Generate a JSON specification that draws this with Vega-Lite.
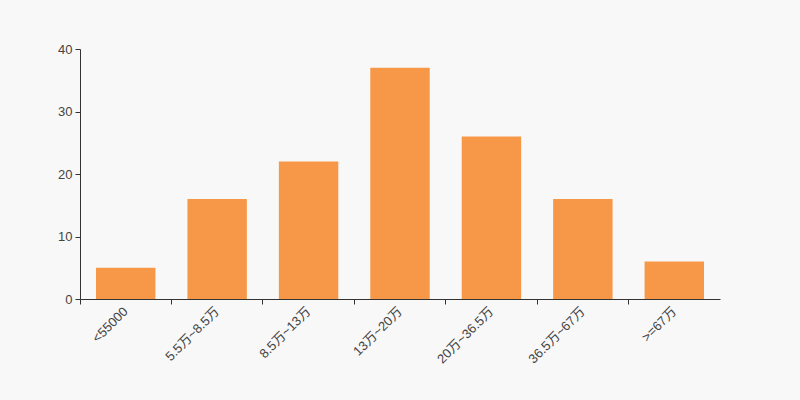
{
  "$schema": "https://vega.github.io/schema/vega-lite/v6.json",
  "width": 640,
  "height": 250,
  "autosize": {"type": "none"},
  "padding": {"left": 80, "top": 49, "right": 80, "bottom": 101},
  "background": "#f8f8f8",
  "config": {
    "view": {"stroke": null},
    "font": "Liberation Sans, Noto Sans CJK SC, sans-serif"
  },
  "data": {
    "values": [
      {"range": "<55000", "count": 5},
      {"range": "5.5万~8.5万", "count": 16},
      {"range": "8.5万~13万", "count": 22},
      {"range": "13万~20万", "count": 37},
      {"range": "20万~36.5万", "count": 26},
      {"range": "36.5万~67万", "count": 16},
      {"range": ">=67万", "count": 6}
    ]
  },
  "mark": {"type": "bar", "color": "#f79848", "width": {"band": 0.65}},
  "encoding": {
    "x": {
      "field": "range",
      "type": "nominal",
      "sort": null,
      "scale": {"paddingInner": 0, "paddingOuter": 0},
      "axis": {
        "title": null,
        "labelAngle": -45,
        "labelAlign": "right",
        "labelBaseline": "middle",
        "labelFontSize": 13,
        "labelColor": "#444",
        "labelPadding": 5,
        "bandPosition": 0,
        "tickSize": 5,
        "tickColor": "#333",
        "domainColor": "#333",
        "labelFont": "Liberation Sans, Noto Sans CJK SC"
      }
    },
    "y": {
      "field": "count",
      "type": "quantitative",
      "scale": {"domain": [0, 40], "nice": false},
      "axis": {
        "title": null,
        "values": [0, 10, 20, 30, 40],
        "grid": false,
        "tickSize": 5,
        "tickColor": "#333",
        "domainColor": "#333",
        "labelFontSize": 13,
        "labelColor": "#444",
        "labelPadding": 3
      }
    }
  }
}
